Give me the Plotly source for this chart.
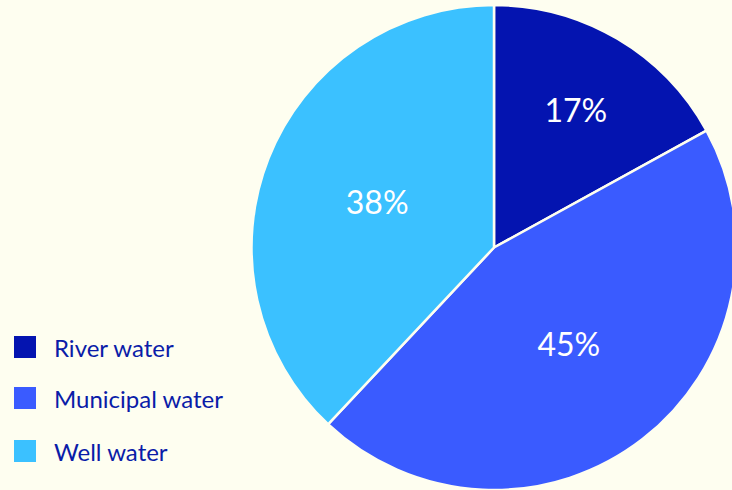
import plotly.graph_objects as go

categories = ["River water", "Municipal water", "Well water"]
values = [17, 45, 38]
colors = ["#0414B0", "#3A5BFF", "#3BC1FF"]

BG = "#FEFEF0"
TEXT = "#0A1CA8"
W, H = 745, 490

fig = go.Figure()
fig.add_trace(go.Pie(
    labels=categories,
    values=values,
    sort=False,
    direction="clockwise",
    rotation=0,
    marker=dict(colors=colors, line=dict(color=BG, width=2.5)),
    textinfo="percent",
    texttemplate="%{percent:.0%}",
    textposition="inside",
    insidetextorientation="horizontal",
    textfont=dict(color="white", size=32, family="Lato"),
    domain=dict(x=[251.5 / W, 736.5 / W], y=[0.0, 485 / H]),
    showlegend=False,
    hoverinfo="label+percent",
))

# Manual legend built from the category and colour lists
legend_rows_px = [347, 398, 451]
for cat, col, py in zip(categories, colors, legend_rows_px):
    yc = 1 - py / H
    fig.add_shape(type="rect", xref="paper", yref="paper",
                  x0=14 / W, x1=36 / W, y0=yc - 11 / H, y1=yc + 11 / H,
                  fillcolor=col, line=dict(width=0))
    fig.add_annotation(xref="paper", yref="paper", x=52 / W, y=yc,
                       xanchor="left", yanchor="middle", showarrow=False,
                       text=cat, font=dict(family="Lato", size=24, color=TEXT))

fig.update_layout(
    width=W, height=H,
    margin=dict(l=0, r=0, t=0, b=0),
    paper_bgcolor=BG, plot_bgcolor=BG,
)

fig.write_html(
    "out.html",
    config={"displayModeBar": False},
    post_script="document.body.style.margin='0';document.body.style.overflow='hidden';"
                "document.documentElement.style.overflow='hidden';"
                "document.body.style.background='" + BG + "';",
)
